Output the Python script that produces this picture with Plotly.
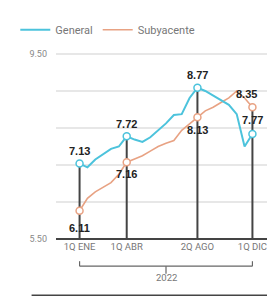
import plotly.graph_objects as go

periods = ["1Q ENE","2Q ENE","1Q FEB","2Q FEB","1Q MAR","2Q MAR","1Q ABR","2Q ABR",
           "1Q MAY","2Q MAY","1Q JUN","2Q JUN","1Q JUL","2Q JUL","1Q AGO","2Q AGO",
           "1Q SEP","2Q SEP","1Q OCT","2Q OCT","1Q NOV","2Q NOV","1Q DIC"]
general = [7.13, 7.05, 7.22, 7.34, 7.45, 7.50, 7.72, 7.65, 7.60, 7.70, 7.85, 8.00,
           8.18, 8.20, 8.55, 8.77, 8.70, 8.60, 8.50, 8.40, 8.20, 7.50, 7.77]
subyacente = [6.11, 6.38, 6.52, 6.62, 6.72, 6.90, 7.16, 7.23, 7.30, 7.40, 7.50, 7.57,
              7.63, 7.85, 8.00, 8.13, 8.27, 8.35, 8.45, 8.55, 8.70, 8.55, 8.35]
key_idx = [0, 6, 15, 22]
key_labels = ["1Q ENE", "1Q ABR", "2Q AGO", "1Q DIC"]
year_label = "2022"
y_min, y_max = 5.50, 9.50
grid_vals = [5.5, 6.3, 7.1, 7.9, 8.7, 9.5]

BLUE = "#4cc3dc"
ORANGE = "#e8a283"
DARK = "#444444"

x = list(range(len(periods)))
fig = go.Figure()

for i in key_idx:
    top = max(general[i], subyacente[i])
    fig.add_trace(go.Scatter(x=[i, i], y=[y_min, top], mode="lines",
                             line=dict(color=DARK, width=2), showlegend=False,
                             hoverinfo="skip"))

fig.add_trace(go.Scatter(x=x, y=subyacente, mode="lines", name="Subyacente",
                         line=dict(color=ORANGE, width=1.6)))
fig.add_trace(go.Scatter(x=x, y=general, mode="lines", name="General",
                         line=dict(color=BLUE, width=2)))
fig.add_trace(go.Scatter(x=key_idx, y=[subyacente[i] for i in key_idx], mode="markers",
                         marker=dict(size=7, color="white", line=dict(color=ORANGE, width=1.5)),
                         showlegend=False))
fig.add_trace(go.Scatter(x=key_idx, y=[general[i] for i in key_idx], mode="markers",
                         marker=dict(size=7, color="white", line=dict(color=BLUE, width=1.5)),
                         showlegend=False))

lab_font = dict(family="Liberation Sans", size=11, color="#222222")
anns = []
for i, dy, dx in [(0, 13, 0), (6, 12, 0), (15, 13, 0), (22, 14, 0)]:
    anns.append(dict(x=i, y=general[i], text="<b>%.2f</b>" % general[i], showarrow=False,
                     xref="x", yref="y", yshift=dy, xshift=dx, font=lab_font))
for i, dy, dx in [(0, -17, 0), (6, -12, 0), (15, -13, 0), (22, 13, -6)]:
    anns.append(dict(x=i, y=subyacente[i], text="<b>%.2f</b>" % subyacente[i], showarrow=False,
                     xref="x", yref="y", yshift=dy, xshift=dx, font=lab_font))
anns.append(dict(x=(key_idx[0] + key_idx[-1]) / 2, y=-0.251, xref="x", yref="paper",
                 text=year_label, showarrow=False,
                 font=dict(family="Roboto", size=9.5, color="#777777")))
fig.update_layout(annotations=anns)

mid = (key_idx[0] + key_idx[-1]) / 2
br = dict(color="#666666", width=1.2)
fig.add_shape(type="line", xref="x", yref="paper", x0=key_idx[0], x1=key_idx[-1],
              y0=-0.147, y1=-0.147, line=br)
fig.add_shape(type="line", xref="x", yref="paper", x0=key_idx[0], x1=key_idx[0],
              y0=-0.147, y1=-0.120, line=br)
fig.add_shape(type="line", xref="x", yref="paper", x0=key_idx[-1], x1=key_idx[-1],
              y0=-0.147, y1=-0.120, line=br)
fig.add_shape(type="line", xref="x", yref="paper", x0=mid, x1=mid,
              y0=-0.147, y1=-0.188, line=br)
fig.add_shape(type="line", xref="paper", yref="paper", x0=-0.111, x1=1.009,
              y0=-0.304, y1=-0.304, line=dict(color="#444444", width=1.5))
# baseline and grid lines in paper coordinates
fig.add_shape(type="line", xref="paper", yref="paper", x0=0, x1=1, y0=0, y1=0,
              line=dict(color="#444444", width=2))
for g in grid_vals[1:]:
    fy = (g - y_min) / (y_max - y_min)
    fig.add_shape(type="line", xref="paper", yref="paper", x0=0, x1=1, y0=fy, y1=fy,
                  line=dict(color="#cfcfcf", width=1.2), layer="below")

fig.update_xaxes(range=[-3, 25], tickvals=key_idx, ticktext=key_labels, showgrid=False,
                 zeroline=False, showline=False, ticks="",
                 tickfont=dict(family="Roboto", size=9.5, color="#777777"))
fig.update_yaxes(range=[y_min, y_max], tickvals=[5.5, 9.5],
                 ticktext=["5.50", "9.50"], showgrid=False, ticks="", ticklabelstandoff=8,
                 zeroline=False, showline=False,
                 tickfont=dict(family="Roboto", size=9, color="#888888"))

fig.update_layout(
    width=275, height=296, plot_bgcolor="white", paper_bgcolor="white",
    margin=dict(l=43, r=7, t=40, b=65),
    showlegend=True,
    legend=dict(orientation="h", x=-0.185, xanchor="left", y=1.131, yanchor="middle",
                traceorder="reversed", font=dict(family="Roboto", size=11, color="#777777"),
                itemwidth=30, bgcolor="rgba(0,0,0,0)", tracegroupgap=0),
)

fig.write_html("out.html")
